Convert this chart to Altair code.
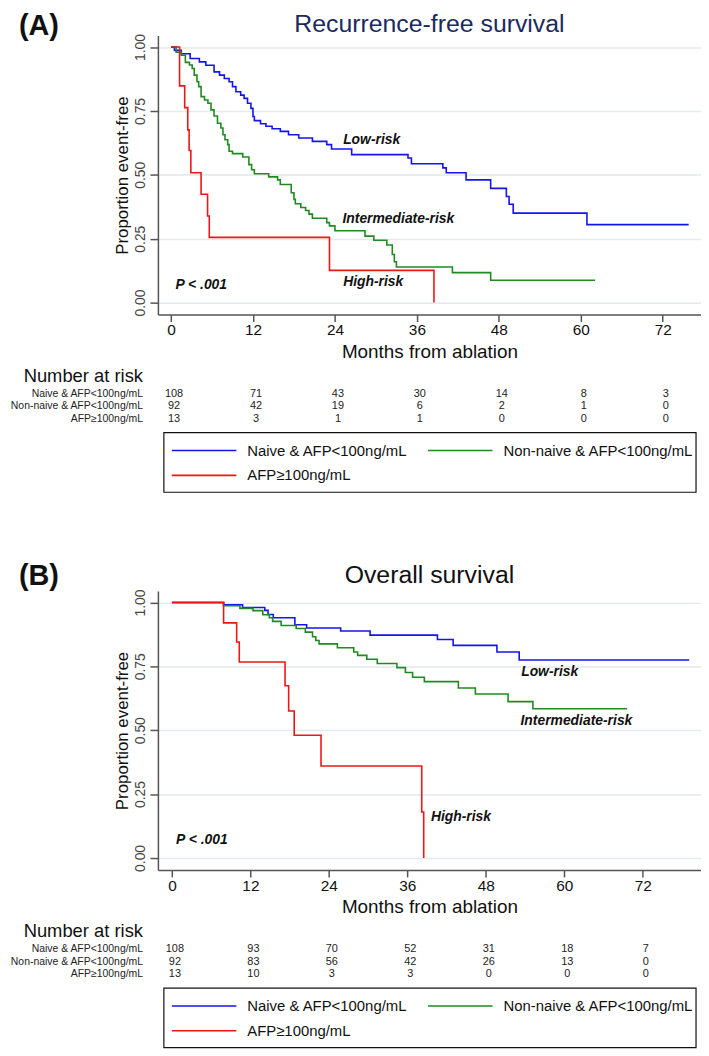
import altair as alt
import pandas as pd

GROUPS = ["Naive & AFP<100ng/mL", "Non-naive & AFP<100ng/mL", "AFP≥100ng/mL"]
COLORS = ["#1414f0", "#1f8a1f", "#f01414"]
RISK_TIMES = [0, 12, 24, 36, 48, 60, 72]
Y_TICKS = [0, 0.25, 0.5, 0.75, 1.0]
ANNOT_LABELS = ["Low-risk", "Intermediate-risk", "High-risk", "P < .001"]

# ---------------- Panel A: Recurrence-free survival ----------------
A_naive_t = [0, 0.5, 1.5, 2.8, 4.15, 5.1, 6.3, 7.1, 7.8, 8.5, 9.0, 9.5, 10.2, 10.7, 11.2,
             11.7, 12.0, 12.2, 13.1, 13.9, 14.8, 16.0, 17.2, 18.7, 20.7, 22.8, 23.5, 26.45,
             34.7, 35.2, 39.8, 40.3, 43.2, 46.8, 49.1, 49.5, 50.1, 60.9, 75.8]
A_naive_s = [1.0, 0.987, 0.974, 0.955, 0.942, 0.929, 0.903, 0.89, 0.877, 0.864, 0.845, 0.825,
             0.812, 0.799, 0.78, 0.76, 0.728, 0.712, 0.70, 0.69, 0.68, 0.67, 0.657, 0.644, 0.631,
             0.618, 0.601, 0.579, 0.566, 0.543, 0.527, 0.508, 0.48, 0.447, 0.415, 0.385, 0.35,
             0.305, 0.305]
A_non_t = [0, 0.75, 1.5, 2.1, 2.7, 3.1, 3.4, 3.8, 4.05, 4.4, 4.9, 5.4, 5.85, 6.3, 6.8, 7.3,
           7.6, 7.9, 8.3, 8.5, 9.0, 10.5, 11.4, 11.8, 12.2, 14.3, 15.6, 16.0, 17.6, 18.0, 18.2,
           19.0, 19.7, 20.2, 20.7, 22.8, 23.2, 24.0, 28.4, 29.7, 31.6, 32.4, 32.7, 33.0, 41.2,
           46.8, 62.1]
A_non_s = [1.0, 0.98, 0.968, 0.94, 0.93, 0.916, 0.89, 0.864, 0.845, 0.806, 0.793, 0.78, 0.754,
           0.73, 0.702, 0.683, 0.657, 0.637, 0.618, 0.592, 0.583, 0.57, 0.54, 0.52, 0.504, 0.492,
           0.48, 0.462, 0.43, 0.404, 0.387, 0.372, 0.36, 0.346, 0.33, 0.313, 0.30, 0.281, 0.26,
           0.244, 0.225, 0.188, 0.16, 0.139, 0.117, 0.087, 0.087]
A_afp_t = [0, 1.25, 2.0, 2.45, 2.65, 2.9, 4.4, 5.35, 5.6, 23.2, 38.5]
A_afp_s = [1.0, 0.848, 0.763, 0.676, 0.595, 0.508, 0.424, 0.339, 0.255, 0.126, 0.0]
A_risk_naive = [108, 71, 43, 30, 14, 8, 3]
A_risk_non = [92, 42, 19, 6, 2, 1, 0]
A_risk_afp = [13, 3, 1, 1, 0, 0, 0]
A_annot_t = [25.2, 25.1, 25.2, 0.65]
A_annot_s = [0.636, 0.326, 0.08, 0.068]

# ---------------- Panel B: Overall survival ----------------
B_naive_t = [0, 7.9, 10.8, 14.2, 14.7, 15.5, 18.8, 20.6, 25.8, 30.3, 40.6, 43.0, 49.7, 53.1, 79.1]
B_naive_s = [1.0, 0.991, 0.98, 0.969, 0.953, 0.94, 0.913, 0.90, 0.888, 0.872, 0.855, 0.832,
             0.806, 0.775, 0.775]
B_non_t = [0, 7.9, 10.4, 12.4, 13.9, 14.9, 15.4, 16.7, 19.0, 20.4, 21.5, 22.0, 22.5, 25.3, 27.8,
           28.4, 29.8, 31.4, 34.4, 35.7, 36.8, 38.6, 43.8, 46.4, 51.4, 55.2, 69.6]
B_non_s = [1.0, 0.987, 0.977, 0.968, 0.952, 0.94, 0.926, 0.91, 0.898, 0.884, 0.866, 0.851, 0.838,
           0.823, 0.806, 0.793, 0.778, 0.761, 0.745, 0.726, 0.707, 0.69, 0.665, 0.642, 0.612,
           0.584, 0.584]
B_afp_t = [0, 7.9, 9.9, 10.3, 17.3, 17.85, 18.7, 22.8, 38.2, 38.5]
B_afp_s = [1.0, 0.92, 0.845, 0.767, 0.674, 0.575, 0.48, 0.36, 0.18, 0.0]
B_risk_naive = [108, 93, 70, 52, 31, 18, 7]
B_risk_non = [92, 83, 56, 42, 26, 13, 0]
B_risk_afp = [13, 10, 3, 3, 0, 0, 0]
B_annot_t = [53.4, 53.3, 39.6, 0.64]
B_annot_s = [0.726, 0.535, 0.16, 0.069]

SANS = "Liberation Sans, Arial, Helvetica, sans-serif"
W, H = 547, 281
AX = "#555555"
LEFT, TOP = 150.3, 23.7   # page offset of the first plot area (beyond the 8px margin)


def const_text(label, x, y, **kw):
    return alt.Chart(pd.DataFrame({"label": [label]})).mark_text(**kw).encode(
        x=alt.value(x), y=alt.value(y), text="label:N")


def panel(tag, title, title_color, series, risk, ann_t, ann_s, xdomain, first=False):
    xs = alt.Scale(domain=xdomain, nice=False, zero=False)
    ys = alt.Scale(domain=[-0.047, 1.045], nice=False, zero=False)
    rows = []
    for g, (tt, ss) in zip(GROUPS, series):
        for a, b in zip(tt, ss):
            rows.append({"group": g, "t": a, "s": b})
    df = pd.DataFrame(rows)

    xaxis = alt.Axis(values=RISK_TIMES, title="Months from ablation", grid=False,
                     domainColor=AX, domainWidth=1.5, tickColor=AX, tickWidth=1.5, tickSize=7,
                     labelFont=SANS, labelFontSize=15.5, labelColor="#111", labelPadding=1.5,
                     labelFlush=False,
                     titleFont=SANS, titleFontSize=19, titleFontWeight="normal",
                     titleColor="#111", titlePadding=4)
    yaxis = alt.Axis(values=Y_TICKS, format=".2f", title="Proportion event-free", grid=True,
                     gridColor="#e3e9ef", gridWidth=1.5,
                     domainColor=AX, domainWidth=1.5, tickColor=AX, tickWidth=1.5, tickSize=8,
                     labelAngle=270, labelAlign="center", labelBaseline="bottom",
                     labelFont=SANS, labelFontSize=14, labelColor="#444", labelPadding=3,
                     titleFont=SANS, titleFontSize=17, titleFontWeight="normal",
                     titleColor="#111", titlePadding=2)

    lines = alt.Chart(df).mark_line(interpolate="step-after", strokeWidth=1.6).encode(
        x=alt.X("t:Q", scale=xs, axis=xaxis),
        y=alt.Y("s:Q", scale=ys, axis=yaxis),
        color=alt.Color("group:N", scale=alt.Scale(domain=GROUPS, range=COLORS), legend=None),
    )

    ann = alt.Chart(pd.DataFrame({"t": ann_t, "s": ann_s, "label": ANNOT_LABELS})).mark_text(
        align="left", baseline="middle", font=SANS, fontSize=14, fontWeight="bold",
        fontStyle="italic", color="#111").encode(
        x=alt.X("t:Q", scale=xs), y=alt.Y("s:Q", scale=ys), text="label:N")

    layers = [lines, ann]
    if first:
        # invisible corner so that the page layout starts where the reference starts
        layers.append(alt.Chart(pd.DataFrame({"a": [0]})).mark_rect(opacity=0).encode(
            x=alt.value(-LEFT), x2=alt.value(-LEFT + 1), y=alt.value(-TOP),
            y2=alt.value(-TOP + 1)))
        layers.append(const_text(title, W / 2, -TOP + 0.5, font=SANS, fontSize=25,
                                 color=title_color, align="center", baseline="top"))
        layers.append(const_text(tag, -140, -TOP + 0.5, font=SANS, fontSize=29,
                                 fontWeight="bold", color="#111", align="left", baseline="top"))
    else:
        layers.append(const_text(title, W / 2, -8, font=SANS, fontSize=25, color=title_color,
                                 align="center", baseline="alphabetic"))
        layers.append(const_text(tag, -140, -6, font=SANS, fontSize=29, fontWeight="bold",
                                 color="#111", align="left", baseline="alphabetic"))
    layers.append(const_text("Number at risk", -15, 343, font=SANS, fontSize=18.5,
                             color="#111", align="right", baseline="middle"))
    for i, (g, counts) in enumerate(zip(GROUPS, risk)):
        yy = 361 + 12.5 * i
        rdf = pd.DataFrame({"t": RISK_TIMES, "n": counts})
        layers.append(alt.Chart(rdf).mark_text(font=SANS, fontSize=11, color="#222", dx=3,
                                               baseline="middle").encode(
            x=alt.X("t:Q", scale=xs), y=alt.value(yy), text="n:Q"))
        layers.append(const_text(g, -15, yy, font=SANS, fontSize=10.5, color="#222",
                                 align="right", baseline="middle"))

    # legend box
    layers.append(alt.Chart(pd.DataFrame({"a": [0]})).mark_rect(
        fillOpacity=0, stroke="#111", strokeWidth=1.2).encode(
        x=alt.value(6), x2=alt.value(542), y=alt.value(400), y2=alt.value(460)))
    entries = [(14, 418), (272, 418), (14, 443)]
    for (lx, ly), g, c in zip(entries, GROUPS, COLORS):
        layers.append(alt.Chart(pd.DataFrame({"a": [0]})).mark_rule(
            color=c, strokeWidth=1.6).encode(
            x=alt.value(lx), x2=alt.value(lx + 65), y=alt.value(ly)))
        layers.append(const_text(g, lx + 76, ly, font=SANS, fontSize=15, color="#111",
                                 align="left", baseline="middle"))

    return alt.layer(*layers).properties(width=W, height=H)


pA = panel("(A)", "Recurrence-free survival", "#1b2a5e",
           [(A_naive_t, A_naive_s), (A_non_t, A_non_s), (A_afp_t, A_afp_s)],
           [A_risk_naive, A_risk_non, A_risk_afp], A_annot_t, A_annot_s, [-1.92, 77.6],
           first=True)
pB = panel("(B)", "Overall survival", "#111111",
           [(B_naive_t, B_naive_s), (B_non_t, B_non_s), (B_afp_t, B_afp_s)],
           [B_risk_naive, B_risk_non, B_risk_afp], B_annot_t, B_annot_s, [-2.14, 80.9])

chart = alt.vconcat(pA, pB, spacing=278.4, bounds="flush").properties(
    padding=0,
    background="white",
).configure_view(stroke=None)

chart.save("out.html", embed_options={"renderer": "svg", "actions": False})
